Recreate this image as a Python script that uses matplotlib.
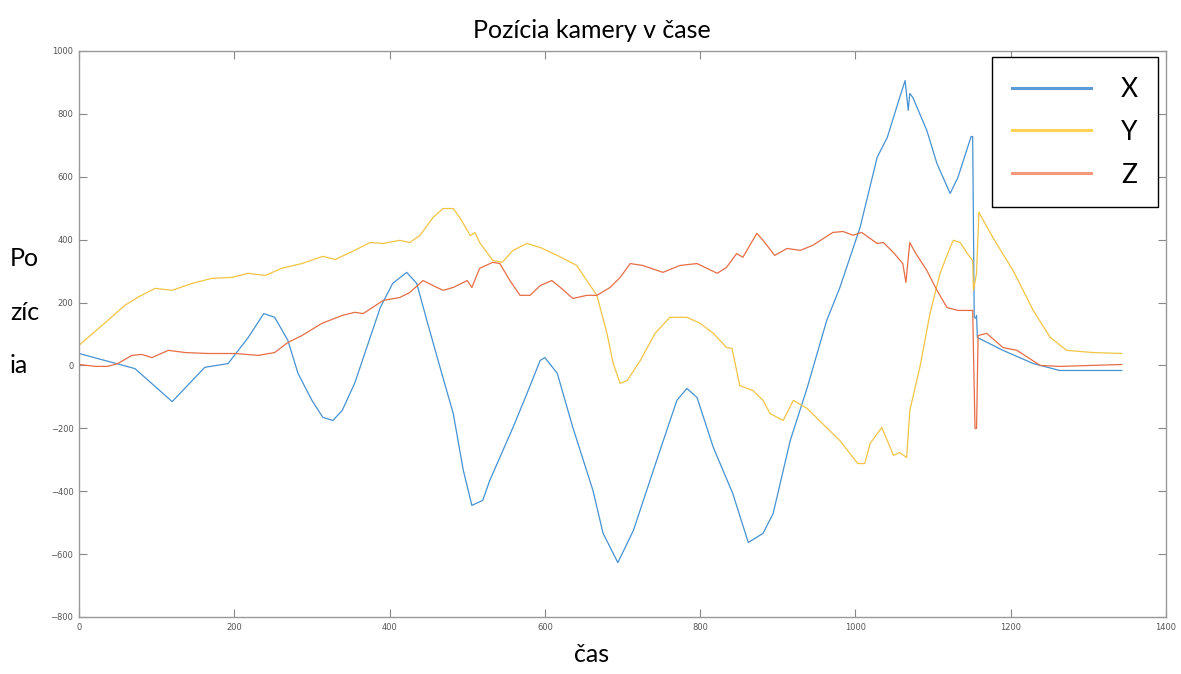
import numpy as np
import matplotlib
matplotlib.use('Agg')
import matplotlib.pyplot as plt
from matplotlib.lines import Line2D

# čas a poloha kamery odčítané z grafu
t_x = [0, 72, 120, 162, 192, 218, 238, 252, 269, 282, 300, 314, 327, 339, 355, 362,
       388, 404, 422, 435, 448, 465, 482, 495, 506, 520, 529, 559, 577, 594, 600, 616,
       636, 662, 675, 694, 714, 744, 770, 783, 796, 817, 842, 862, 881, 894, 916, 938,
       963, 980, 1006, 1028, 1041, 1057, 1064, 1068, 1070, 1074, 1092, 1105, 1122, 1132,
       1149, 1151, 1153, 1155, 1156, 1157, 1190, 1229, 1263, 1343]
x_vals = [38, -10, -115, -6, 6, 89, 165, 153, 80, -25, -111, -165, -175, -143, -57, -6,
          184, 261, 296, 261, 143, -6, -153, -334, -445, -429, -366, -197, -89, 16, 25, -25,
          -197, -398, -534, -627, -525, -302, -111, -73, -102, -261, -407, -563, -534, -471, -239, -70,
          143, 248, 439, 662, 725, 852, 906, 811, 865, 852, 747, 642, 547, 598,
          728, 728, 153, 150, 159, 89, 48, 6, -16, -16]

t_y = [0, 37, 59, 76, 98, 120, 146, 171, 197, 218, 240, 261, 287, 314, 330, 355,
       375, 392, 413, 426, 439, 456, 469, 482, 491, 504, 510, 516, 533, 545, 559, 577,
       594, 616, 641, 654, 667, 680, 688, 697, 706, 723, 742, 761, 783, 800, 817, 834,
       841, 851, 868, 881, 890, 907, 920, 938, 951, 980, 1003, 1012, 1019, 1034, 1049,
       1057, 1066, 1070, 1083, 1096, 1109, 1122, 1126, 1135, 1144, 1151, 1152, 1156,
       1159, 1177, 1203, 1229, 1251, 1272, 1306, 1343]
y_vals = [64, 143, 191, 217, 245, 239, 261, 277, 280, 293, 286, 309, 324, 347, 337, 366,
          391, 388, 398, 391, 413, 471, 499, 499, 468, 413, 423, 391, 334, 328, 366, 388,
          375, 350, 318, 270, 223, 102, 6, -57, -48, 16, 102, 153, 153, 134, 102, 57,
          54, -64, -80, -111, -153, -175, -111, -137, -169, -239, -312, -312, -248, -197, -286,
          -277, -293, -143, -6, 165, 293, 375, 398, 391, 356, 334, 239, 293,
          487, 407, 302, 175, 89, 48, 41, 38]

t_z = [0, 21, 37, 50, 68, 81, 94, 115, 137, 166, 201, 231, 252, 269, 287, 313, 339,
       355, 366, 392, 413, 426, 443, 461, 469, 482, 500, 506, 516, 533, 542, 555, 568,
       581, 594, 609, 620, 636, 654, 667, 684, 697, 710, 726, 752, 774, 796, 822, 834,
       847, 855, 873, 881, 896, 912, 929, 945, 971, 984, 997, 1008, 1028, 1036, 1049,
       1061, 1065, 1070, 1077, 1092, 1105, 1118, 1132, 1151, 1154, 1156, 1158, 1169,
       1190, 1208, 1238, 1263, 1343]
z_vals = [3, -3, -3, 6, 32, 35, 25, 48, 41, 38, 38, 32, 41, 73, 95, 134, 159,
          169, 165, 207, 216, 232, 270, 248, 239, 248, 270, 248, 309, 328, 324, 270, 223,
          223, 254, 270, 248, 213, 223, 223, 248, 280, 324, 318, 296, 318, 324, 293, 312,
          356, 344, 420, 398, 350, 372, 366, 382, 423, 426, 414, 423, 388, 391, 359,
          324, 264, 391, 359, 302, 239, 184, 175, 175, -200, -200, 95, 102,
          57, 48, 0, -3, 3]

farby = {'X': '#4692d2', 'Y': '#f2c444', 'Z': '#e66e46'}

W, H = 1181, 674
fig = plt.figure(figsize=(W / 100, H / 100), dpi=100)
ax = fig.add_axes([79 / W, 1 - 617 / H, (1166 - 79) / W, (617 - 51) / H])

ax.plot(t_x, x_vals, color=farby['X'], lw=0.9)
ax.plot(t_y, y_vals, color=farby['Y'], lw=0.9)
ax.plot(t_z, z_vals, color=farby['Z'], lw=0.9)

ax.set_xlim(0, 1400)
ax.set_ylim(-800, 1000)
ax.set_xticks(np.arange(0, 1401, 200))
ax.set_yticks(np.arange(-800, 1001, 200))
ax.tick_params(direction='in', length=6, width=0.8, color='#888888',
               labelsize=6, labelcolor='#555555', top=True, right=True, pad=4)
for s in ax.spines.values():
    s.set_color('#999999')
    s.set_linewidth(1.0)

# legenda - čiary naľavo, písmená napravo
handles = [Line2D([], [], color='#5b9bd5', lw=2.2),
           Line2D([], [], color='#ffd254', lw=2.2),
           Line2D([], [], color='#f4977a', lw=2.2)]
leg = fig.legend(handles, ['X', 'Y', 'Z'], loc='upper right',
                 bbox_to_anchor=(1158 / W, 1 - 57 / H), bbox_transform=fig.transFigure,
                 fancybox=False, framealpha=1, edgecolor='black',
                 handlelength=3.0, handletextpad=1.15, labelspacing=0.68,
                 borderpad=0.75, borderaxespad=0,
                 prop={'family': 'Lato', 'size': 19})
leg.get_frame().set_linewidth(1.0)

fig.text(592 / W, 1 - 30 / H, 'Pozícia kamery v čase', ha='center', va='center',
         fontsize=18, family='Lato')
fig.text(592 / W, 1 - 655 / H, 'čas', ha='center', va='center',
         fontsize=18, family='Lato')
fig.text(10 / W, 1 - 312 / H, 'Po\nzíc\nia', ha='left', va='center',
         fontsize=18, family='Lato', linespacing=2.6)

fig.savefig('out.png', dpi=100)
